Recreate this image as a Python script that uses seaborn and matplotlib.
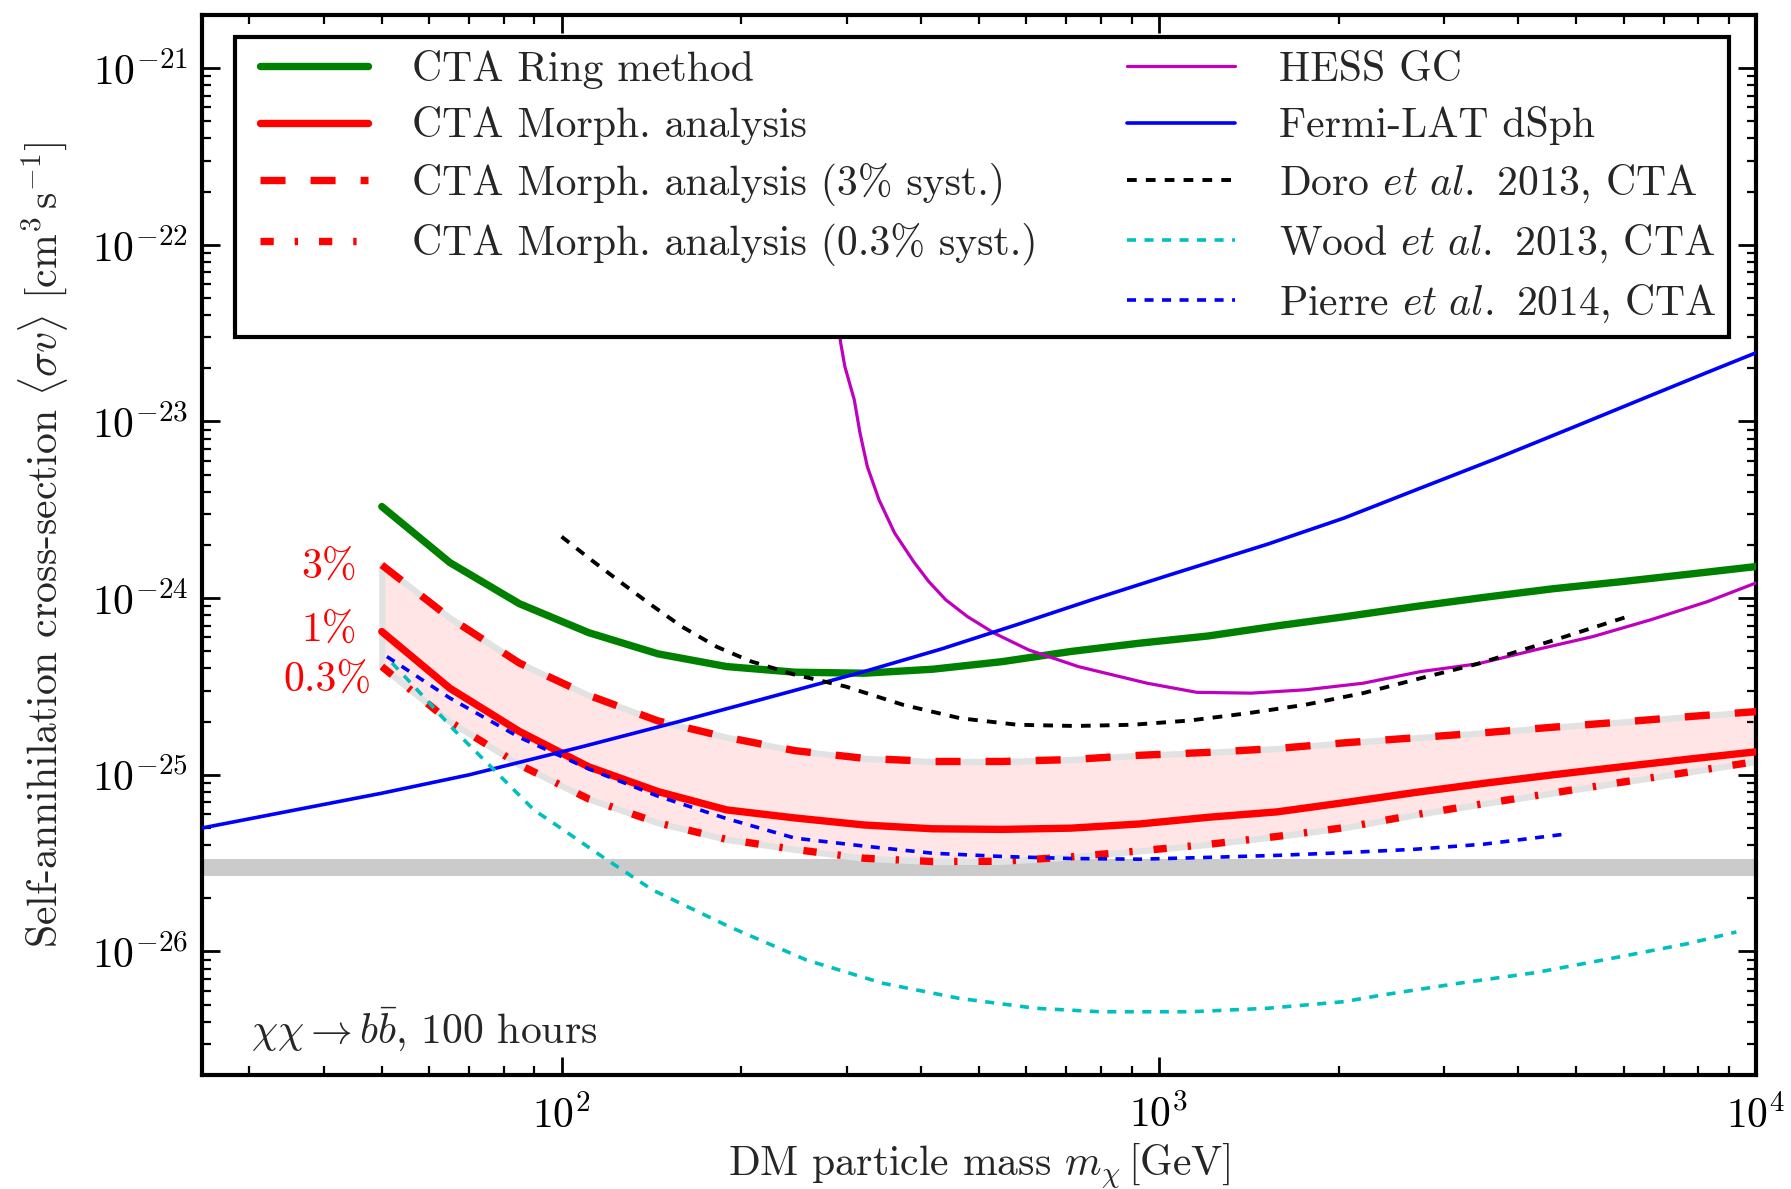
import matplotlib
matplotlib.use("Agg")
import matplotlib.pyplot as plt
from matplotlib.lines import Line2D
from matplotlib.legend_handler import HandlerLine2D
from matplotlib.ticker import LogLocator
import seaborn as sns

# ---- CTA projected limits (100 h, bb channel) ----
mass_cta = [50, 65, 85, 111, 145, 189, 246, 321, 418, 546, 712, 928, 1210,
            1578, 2058, 2684, 3500, 4565, 5954, 7766, 10000]
ring_method = [3.30e-24, 1.59e-24, 9.3e-25, 6.38e-25, 4.84e-25, 4.10e-25, 3.81e-25,
               3.76e-25, 3.96e-25, 4.37e-25, 4.99e-25, 5.56e-25, 6.11e-25, 6.97e-25,
               7.87e-25, 8.96e-25, 1.01e-24, 1.13e-24, 1.24e-24, 1.37e-24, 1.51e-24]
morph_1pct = [6.47e-25, 3.09e-25, 1.76e-25, 1.11e-25, 8.04e-26, 6.33e-26, 5.70e-26,
              5.20e-26, 4.95e-26, 4.91e-26, 4.99e-26, 5.27e-26, 5.75e-26, 6.17e-26,
              6.98e-26, 7.94e-26, 8.95e-26, 1.00e-25, 1.11e-25, 1.23e-25, 1.35e-25]
morph_3pct = [1.54e-24, 7.73e-25, 4.29e-25, 2.82e-25, 2.02e-25, 1.63e-25, 1.37e-25,
              1.24e-25, 1.19e-25, 1.19e-25, 1.22e-25, 1.29e-25, 1.34e-25, 1.41e-25,
              1.52e-25, 1.62e-25, 1.73e-25, 1.86e-25, 1.99e-25, 2.14e-25, 2.28e-25]
morph_03pct = [4.10e-25, 2.00e-25, 1.14e-25, 7.30e-26, 5.35e-26, 4.31e-26, 3.78e-26,
               3.37e-26, 3.23e-26, 3.24e-26, 3.43e-26, 3.71e-26, 4.04e-26, 4.48e-26,
               5.04e-26, 5.94e-26, 6.87e-26, 7.89e-26, 9.08e-26, 1.04e-25, 1.19e-25]

# ---- Existing limits and earlier CTA projections ----
mass_hess = [285, 293, 298, 309, 316, 325, 340, 361, 389, 412, 440, 478, 530, 605,
             733, 956, 1158, 1428, 1762, 2198, 2743, 3421, 4272, 5329, 6651, 8299, 10000]
sv_hess = [1.0e-22, 2.84e-23, 2.05e-23, 1.33e-23, 8.6e-24, 5.56e-24, 3.6e-24, 2.34e-24,
           1.60e-24, 1.24e-24, 9.77e-25, 7.87e-25, 6.34e-25, 5.1e-25, 4.1e-25, 3.3e-25,
           2.93e-25, 2.9e-25, 3.03e-25, 3.3e-25, 3.84e-25, 4.25e-25, 5.1e-25, 6.06e-25,
           7.53e-25, 9.57e-25, 1.22e-24]

mass_fermi = [25, 50, 70, 108, 157, 215, 321, 432, 580, 780, 1047, 1520, 2042, 2743,
              3686, 4951, 6650, 8297, 10000]
sv_fermi = [5.0e-26, 7.87e-26, 1.0e-25, 1.44e-25, 2.0e-25, 2.66e-25, 3.84e-25, 5.15e-25,
            7.1e-25, 9.9e-25, 1.36e-24, 2.02e-24, 2.84e-24, 4.2e-24, 6.2e-24, 9.3e-24,
            1.4e-23, 1.9e-23, 2.45e-23]

mass_doro = [100, 112, 126, 141, 159, 182, 207, 245, 299, 373, 465, 580, 724, 903,
             1127, 1406, 1756, 2198, 2742, 3420, 4600, 6220]
sv_doro = [2.23e-24, 1.65e-24, 1.22e-24, 9.2e-25, 6.9e-25, 5.3e-25, 4.4e-25, 3.7e-25,
           3.16e-25, 2.49e-25, 2.09e-25, 1.92e-25, 1.89e-25, 1.92e-25, 2.03e-25,
           2.23e-25, 2.49e-25, 2.9e-25, 3.52e-25, 4.25e-25, 5.8e-25, 8.04e-25]

mass_wood = [52, 58, 66, 77, 90, 97, 117, 142, 191, 257, 345, 463, 622, 797, 1132,
             1521, 2042, 2366, 3179, 4268, 5737, 7709, 9268]
sv_wood = [4.3e-25, 2.9e-25, 1.8e-25, 1.07e-25, 6.3e-26, 5.32e-26, 3.44e-26, 2.23e-26,
           1.38e-26, 8.95e-27, 6.61e-27, 5.43e-27, 4.77e-27, 4.56e-27, 4.56e-27,
           4.77e-27, 5.2e-27, 5.67e-27, 6.61e-27, 7.59e-27, 9.15e-27, 1.11e-26, 1.29e-26]

mass_pierre = [51, 65, 85, 111, 145, 189, 246, 321, 418, 546, 712, 928, 1210, 1578,
               2058, 2684, 3500, 4800]
sv_pierre = [4.67e-25, 2.72e-25, 1.63e-25, 1.08e-25, 7.57e-26, 5.65e-26, 4.38e-26,
             3.95e-26, 3.6e-26, 3.45e-26, 3.36e-26, 3.33e-26, 3.41e-26, 3.5e-26,
             3.63e-26, 3.79e-26, 4.05e-26, 4.62e-26]

# thermal relic cross-section band
relic_band = (2.69e-26, 3.35e-26)

x_major_ticks = [1e2, 1e3, 1e4]
y_major_ticks = [1e-26, 1e-25, 1e-24, 1e-23, 1e-22, 1e-21]

syst_labels = ["3%", "1%", "0.3%"]
syst_label_x = [45.4, 45.4, 48.1]
syst_label_y = [1.50e-24, 6.6e-25, 3.45e-25]

legend_labels = [
    "CTA Ring method",
    "CTA Morph. analysis",
    "CTA Morph. analysis (3% syst.)",
    "CTA Morph. analysis (0.3% syst.)",
    "",
    "HESS GC",
    "Fermi-LAT dSph",
    r"Doro $\mathit{et\ al.}$ 2013, CTA",
    r"Wood $\mathit{et\ al.}$ 2013, CTA",
    r"Pierre $\mathit{et\ al.}$ 2014, CTA",
]

sns.set_style("ticks")
plt.rcParams.update({
    "font.family": "serif",
    "font.serif": ["cmr10"],
    "mathtext.fontset": "cm",
    "axes.formatter.use_mathtext": True,
    "axes.unicode_minus": False,
    "font.size": 30,
})

GREEN = (0.0, 0.5, 0.0)
RED = (1.0, 0.0, 0.0)
MAGENTA = (0.75, 0.0, 0.75)
BLUE = (0.0, 0.0, 1.0)
CYAN = (0.0, 0.75, 0.75)

LS_SYST3 = (0, (3.4, 3.4))
LS_SYST03 = (0, (1.8, 2.85, 0.45, 2.85))
LS_DOT = (0, (2.5, 2.35))

fig = plt.figure(figsize=(17.91, 11.89), dpi=100)
ax = fig.add_axes([0.1128, 0.0959, 0.8677, 0.8915])
ax.set_xscale("log")
ax.set_yscale("log")

ax.axhspan(relic_band[0], relic_band[1], color="#cbcbcb", lw=0, zorder=1)
ax.fill_between(mass_cta, morph_03pct, morph_3pct, facecolor=(1, 0, 0, 0.1),
                edgecolor="#e2e2e2", linewidth=4.5, zorder=2)

sns.lineplot(x=mass_cta, y=ring_method, ax=ax, color=GREEN, linewidth=5.3, zorder=4)
sns.lineplot(x=mass_cta, y=morph_1pct, ax=ax, color=RED, linewidth=5.3, zorder=4)
sns.lineplot(x=mass_cta, y=morph_3pct, ax=ax, color=RED, linewidth=5.3,
             linestyle=LS_SYST3, zorder=4)
sns.lineplot(x=mass_cta, y=morph_03pct, ax=ax, color=RED, linewidth=5.3,
             linestyle=LS_SYST03, zorder=4)
sns.lineplot(x=mass_hess, y=sv_hess, ax=ax, color=MAGENTA, linewidth=2.3, zorder=5)
sns.lineplot(x=mass_fermi, y=sv_fermi, ax=ax, color=BLUE, linewidth=2.6, zorder=5)
sns.lineplot(x=mass_doro, y=sv_doro, ax=ax, color="k", linewidth=2.8,
             linestyle=LS_DOT, zorder=5)
sns.lineplot(x=mass_wood, y=sv_wood, ax=ax, color=CYAN, linewidth=2.6,
             linestyle=LS_DOT, zorder=5)
sns.lineplot(x=mass_pierre, y=sv_pierre, ax=ax, color=BLUE, linewidth=2.6,
             linestyle=LS_DOT, zorder=5)

for lab, lx, ly in zip(syst_labels, syst_label_x, syst_label_y):
    ax.text(lx, ly, lab, color=RED, ha="right", va="center", fontsize=30)

ax.text(0.0315, 0.030, r"$\chi\chi\rightarrow b\bar{b}$, 100 hours",
        transform=ax.transAxes, fontsize=30, va="baseline", ha="left")

ax.set_xticks(x_major_ticks)
ax.set_yticks(y_major_ticks)
ax.xaxis.set_minor_locator(LogLocator(base=10, subs=range(2, 10), numticks=20))
ax.yaxis.set_minor_locator(LogLocator(base=10, subs=range(2, 10), numticks=20))
ax.set_xlim(25, 1e4)
ax.set_ylim(2e-27, 2e-21)

ax.set_xlabel(r"DM particle mass $m_\chi\,$[GeV]", fontsize=30)
ax.set_ylabel(r"Self-annihilation cross-section $\langle\sigma v\rangle$ [cm$^3\,$s$^{-1}$]",
              fontsize=30)
ax.xaxis.set_label_coords(0.5, -0.063)
ax.yaxis.set_label_coords(-0.085, 0.5)

for sp in ax.spines.values():
    sp.set_linewidth(3)
    sp.set_color("k")
ax.tick_params(which="both", direction="in", top=True, right=True, colors="k")
ax.tick_params(which="major", length=13, width=2, labelsize=30, pad=10)
ax.tick_params(which="minor", length=6.5, width=1.6, labelleft=False, labelbottom=False)
ax.tick_params(axis="x", which="major", pad=14)

handles = [
    Line2D([], [], color=GREEN, lw=5.3),
    Line2D([], [], color=RED, lw=5.3),
    Line2D([], [], color=RED, lw=5.3, ls=LS_SYST3),
    Line2D([], [], color=RED, lw=5.3, ls=LS_SYST03),
    Line2D([], [], color="none", lw=0),
    Line2D([], [], color=MAGENTA, lw=2.3),
    Line2D([], [], color=BLUE, lw=2.6),
    Line2D([], [], color="k", lw=2.8, ls=LS_DOT),
    Line2D([], [], color=CYAN, lw=2.6, ls=LS_DOT),
    Line2D([], [], color=BLUE, lw=2.6, ls=LS_DOT),
]
leg = ax.legend(handles, legend_labels, ncol=2, loc="upper left",
                bbox_to_anchor=(0.0212, 0.979), frameon=True, fancybox=False,
                edgecolor="k", framealpha=1, fontsize=30, handlelength=2.9,
                handletextpad=1.04, columnspacing=1.86, borderpad=0.3,
                labelspacing=0.42, borderaxespad=0,
                handler_map={Line2D: HandlerLine2D(xpad=0.3)})
leg.get_frame().set_linewidth(3)
leg.set_zorder(10)

fig.savefig("out.png", dpi=100)
